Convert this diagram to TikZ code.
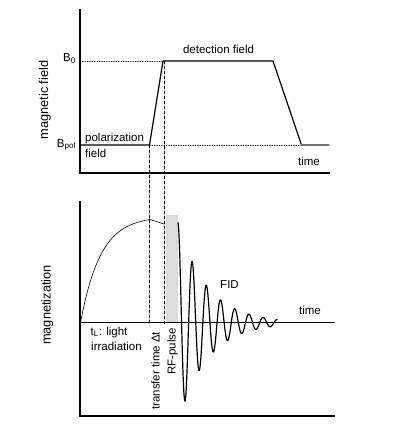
\documentclass[tikz,border=0pt]{standalone}
\usepackage{fontspec}
\setmainfont{Liberation Sans}
\begin{document}
\begin{tikzpicture}[x=1pt, y=-1pt, line cap=round,
    axis/.style={line width=1.5pt, line cap=rect},
    field/.style={line width=1.2pt, line join=round},
    guide/.style={line width=0.6pt, dash pattern=on 3pt off 2pt},
    level/.style={line width=0.6pt, dash pattern=on 0.8pt off 1.6pt},
    lbl/.style={font=\fontsize{11.5}{13}\selectfont, inner sep=0pt},
    axlbl/.style={font=\fontsize{12.8}{14}\selectfont, inner sep=0pt, rotate=90}]

  \useasboundingbox (0,0) rectangle (392,433);

  % ---- upper panel: the magnetic field ----
  \coordinate (top) at (80,10);
  \coordinate (orig) at (80,173);
  \coordinate (tend) at (329,173);
  \draw[axis] (top) -- (orig) -- (tend);

  % reference levels
  \coordinate (b0) at (80,61);
  \coordinate (bp) at (80,145);
  \coordinate (rampA) at (149.5,145);
  \coordinate (rampB) at (163,61);
  \coordinate (fallA) at (273,61);
  \coordinate (fallB) at (301.5,145);
  \coordinate (fend) at (329,145);
  \draw[level] (b0) -- (rampB);
  \draw[level] (rampA) -- (fallB);

  % field switching cycle
  \draw[field] (bp) -- (rampA) -- (rampB) -- (fallA) -- (fallB);
  \draw[field, black!55] (fallB) -- (fend);

  \node[lbl, anchor=base east] (Bzero) at (76,61.5) {B\textsubscript{0}};
  \node[lbl, anchor=base east] (Bpol) at (76,147) {B\textsubscript{pol}};
  \node[lbl, anchor=base] (det) at (218.5,53.5) {detection field};
  \node[lbl, anchor=base west] (pol) at (85,141) {polarization};
  \node[lbl, anchor=base west] (polf) at (85,157) {field};
  \node[lbl, anchor=base] (ttop) at (309,165) {time};
  \node[axlbl, anchor=base] (mf) at (48,100) {magnetic field};

  % ---- lower panel: the magnetization ----
  \coordinate (mtop) at (80,202);
  \coordinate (morig) at (80,416);
  \coordinate (mend) at (334,416);
  \coordinate (zero) at (80,322.7);
  \coordinate (zend) at (334,322.7);
  \draw[axis] (mtop) -- (morig) -- (mend);
  \draw[line width=1pt] (zero) -- (zend);

  % the RF pulse
  \fill[black!14] (166,215) rectangle (178,322.2);

  % timing guides through both panels
  \coordinate (g1) at (149.5,324);
  \coordinate (g2) at (164.5,324);
  \draw[guide] (rampA) -- (g1);
  \draw[guide] (164.5,61) -- (g2);

  % build-up under light, then loss during transfer
  \draw[line width=0.6pt] plot[domain=0:69.5, samples=60, smooth]
        ({80.5+\x},{322.7-106.5*(1-exp(-\x/20))}) -- (164,224);

  % free induction decay (period 14.2, 360/14.2 = 25.35)
  \draw[field] plot[domain=0:99, samples=400, smooth]
        ({178+\x},{322.7-100*exp(-0.0347*\x)*cos(25.35*\x)});

  \node[lbl, anchor=base west] (tl) at (90.5,335) {t\textsubscript{L}: light};
  \node[lbl, anchor=base west] (irr) at (91,350) {irradiation};
  \node[lbl, anchor=base west, rotate=90] (dt) at (159.5,410) {transfer time Δt};
  \node[lbl, anchor=base west, rotate=90] (rf) at (175.5,375) {RF-pulse};
  \node[lbl, anchor=base] (fid) at (229.5,288.5) {FID};
  \node[lbl, anchor=base] (tbot) at (310,314) {time};
  \node[axlbl, anchor=base] (mz) at (50.5,305) {magnetization};

\end{tikzpicture}
\end{document}
